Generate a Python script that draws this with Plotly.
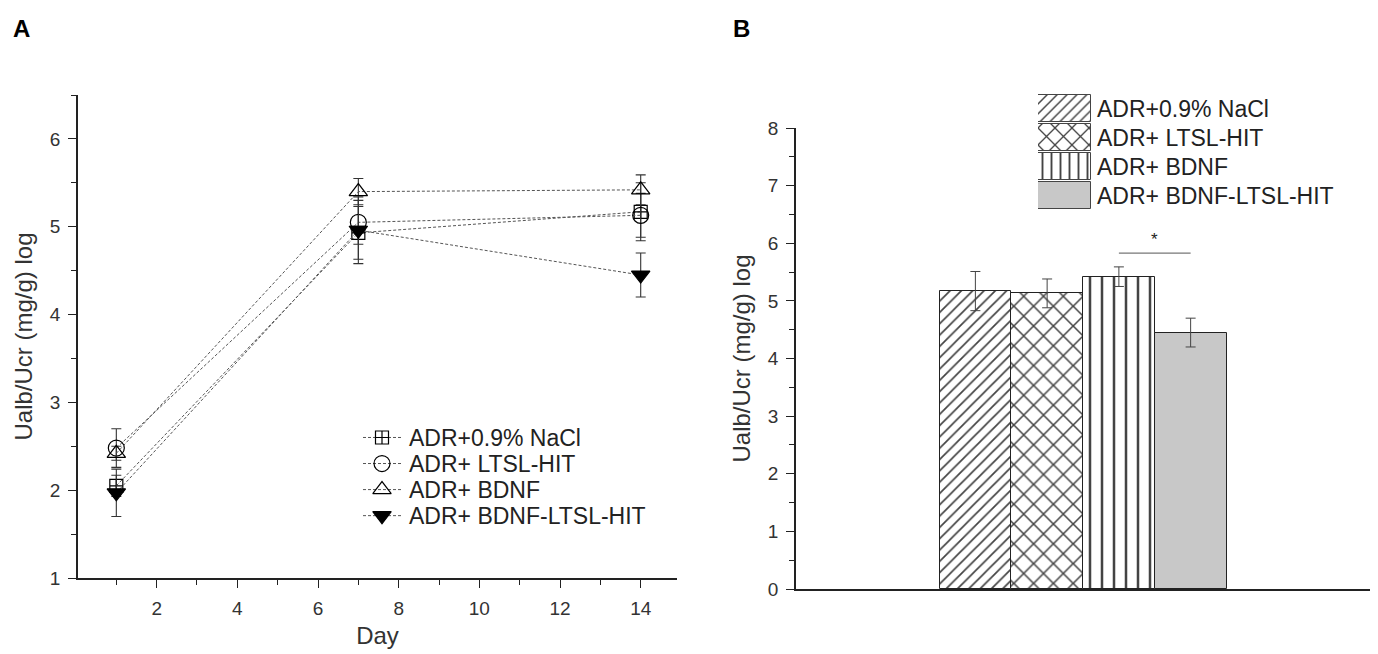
import plotly.graph_objects as go

W, H = 1378, 654

# ---------------- data ----------------
days = [1, 7, 14]
series_names = ["ADR+0.9% NaCl", "ADR+ LTSL-HIT", "ADR+ BDNF", "ADR+ BDNF-LTSL-HIT"]

nacl = [2.05, 4.93, 5.17]
nacl_err = [0.12, 0.30, 0.33]
ltsl = [2.48, 5.05, 5.13]
ltsl_err = [0.22, 0.25, 0.25]
bdnf = [2.42, 5.40, 5.42]
bdnf_err = [0.08, 0.15, 0.17]
combo = [1.97, 4.96, 4.45]
combo_err = [0.27, 0.38, 0.25]

bar_values = [5.17, 5.13, 5.42, 4.45]
bar_errors = [0.34, 0.25, 0.17, 0.25]

sig_pair = [2, 3]
sig_y = 5.83
sig_label = "*"

x_ticks_a = [2, 4, 6, 8, 10, 12, 14]
y_title = "Ualb/Ucr (mg/g) log"
x_title = "Day"

# ---------------- styles ----------------
FONT = "Liberation Sans, Arial, sans-serif"
TXT = "#222222"
line_vals = [nacl, ltsl, bdnf, combo]
line_errs = [nacl_err, ltsl_err, bdnf_err, combo_err]
symbols = ["square-cross-open", "circle-open", "triangle-up-open", "triangle-down"]
sizes = [13, 16, 16, 16]
patterns = ["/", "x", "|", ""]
pat_sizes = [8, 14, 12, 8]
bar_colors = ["white", "white", "white", "#c8c8c8"]
LINE_STYLE = dict(color="#555555", width=1, dash="3px,2px")


def px(x):
    return x / W


def py(y):
    return 1 - y / H


fig = go.Figure()

# Panel A lines
for name, vals, errs, sym, sz in zip(series_names, line_vals, line_errs, symbols, sizes):
    fig.add_trace(go.Scatter(
        x=days, y=vals, name=name, mode="lines+markers", showlegend=False,
        line=LINE_STYLE,
        marker=dict(symbol=sym, size=sz, color="black",
                    line=dict(color="black", width=1.2)),
        error_y=dict(type="data", array=errs, visible=True,
                     color="#333333", thickness=1.1, width=5),
        xaxis="x", yaxis="y",
    ))

# Panel A legend drawn as a small subplot (one row per series)
for name, sym, sz in zip(series_names, symbols, sizes):
    fig.add_trace(go.Scatter(
        x=[0, 1], y=[name, name], mode="lines", line=LINE_STYLE,
        showlegend=False, hoverinfo="skip", xaxis="x4", yaxis="y4"))
    fig.add_trace(go.Scatter(
        x=[0.5], y=[name], mode="markers", showlegend=False, hoverinfo="skip",
        marker=dict(symbol=sym, size=sz, color="black",
                    line=dict(color="black", width=1.2)),
        xaxis="x4", yaxis="y4"))

# Panel B bars
fig.add_trace(go.Bar(
    x=series_names, y=bar_values, showlegend=False,
    marker=dict(color=bar_colors, line=dict(color="#222222", width=1),
                pattern=dict(shape=patterns, size=pat_sizes, solidity=0.21,
                             fgcolor="black", fgopacity=1, fillmode="overlay")),
    error_y=dict(type="data", array=bar_errors, visible=True,
                 color="#444444", thickness=1, width=5),
    xaxis="x2", yaxis="y2",
))

# Panel B legend drawn as a small bar subplot
fig.add_trace(go.Bar(
    y=series_names, x=[1] * len(series_names), orientation="h", showlegend=False,
    width=0.9,
    marker=dict(color=bar_colors, line=dict(color="#444444", width=1),
                pattern=dict(shape=patterns, size=[7, 12, 9, 8], solidity=0.21,
                             fgcolor="black", fgopacity=1, fillmode="overlay")),
    xaxis="x3", yaxis="y3", hoverinfo="skip",
))

axis_common = dict(showline=True, linecolor=TXT, linewidth=1.6,
                   ticks="outside", tickcolor=TXT, tickwidth=1.3, ticklen=8,
                   showgrid=False, zeroline=False, ticklabelstandoff=4,
                   tickfont=dict(family=FONT, size=19, color="#333333"))
minor_common = dict(ticks="outside", ticklen=5, tickcolor=TXT, tickwidth=1.2)
title_font = dict(family=FONT, size=24, color="#333333")
legend_axis = dict(side="right", showline=False, ticks="", showgrid=False,
                   zeroline=False, autorange="reversed", tickmode="array",
                   tickvals=series_names, ticktext=series_names,
                   tickfont=dict(family=FONT, size=23, color=TXT))

fig.update_layout(
    width=W, height=H,
    margin=dict(l=0, r=0, t=0, b=0, autoexpand=False),
    paper_bgcolor="white", plot_bgcolor="white",
    font=dict(family=FONT, color=TXT),
    bargap=0,
    showlegend=False,
    xaxis=dict(domain=[px(78), px(677)], anchor="y", range=[0.05, 14.9],
               tickvals=x_ticks_a,
               minor=dict(dtick=1, tick0=0, **minor_common),
               title=dict(text=x_title, font=title_font, standoff=10),
               **axis_common),
    yaxis=dict(domain=[py(578), py(95)], anchor="x", range=[1, 6.5],
               dtick=1, tick0=0,
               minor=dict(dtick=0.5, tick0=0, **minor_common),
               title=dict(text=y_title, font=title_font, standoff=10),
               **axis_common),
    xaxis2=dict(domain=[px(796), px(1370)], anchor="y2", range=[-2.5, 5.5],
                showline=True, linecolor=TXT, linewidth=1.6, ticks="",
                showticklabels=False, showgrid=False, zeroline=False),
    yaxis2=dict(domain=[py(589), py(128)], anchor="x2", range=[0, 8],
                dtick=1, tick0=0,
                minor=dict(dtick=0.5, tick0=0, **minor_common),
                title=dict(text=y_title, font=title_font, standoff=10),
                **axis_common),
    xaxis3=dict(domain=[px(1038), px(1091)], anchor="y3", range=[0, 1],
                visible=False, fixedrange=True),
    yaxis3=dict(domain=[py(210), py(94)], anchor="x3", ticklabelstandoff=5,
                **legend_axis),
    xaxis4=dict(domain=[px(363), px(401)], anchor="y4", range=[0, 1],
                visible=False, fixedrange=True),
    yaxis4=dict(domain=[py(531), py(424)], anchor="x4", ticklabelstandoff=7,
                **legend_axis),
)

# significance bar
fig.add_shape(type="line", xref="x2", yref="y2",
              x0=sig_pair[0], x1=sig_pair[1], y0=sig_y, y1=sig_y,
              line=dict(color="#777777", width=1.2))
fig.add_annotation(xref="x2", yref="y2", x=sum(sig_pair) / 2, y=sig_y,
                   text=sig_label, showarrow=False, yanchor="bottom", yshift=2,
                   font=dict(family=FONT, size=17, color=TXT))

# panel letters
fig.add_annotation(xref="paper", yref="paper", x=px(21), y=py(29), text="<b>A</b>",
                   xanchor="center", yanchor="middle",
                   showarrow=False, font=dict(family=FONT, size=24, color="black"))
fig.add_annotation(xref="paper", yref="paper", x=px(741), y=py(29), text="<b>B</b>",
                   xanchor="center", yanchor="middle",
                   showarrow=False, font=dict(family=FONT, size=24, color="black"))

fig.write_html("out.html", config={"displayModeBar": False},
               post_script="document.body.style.margin='0px';document.body.style.overflow='hidden';")
